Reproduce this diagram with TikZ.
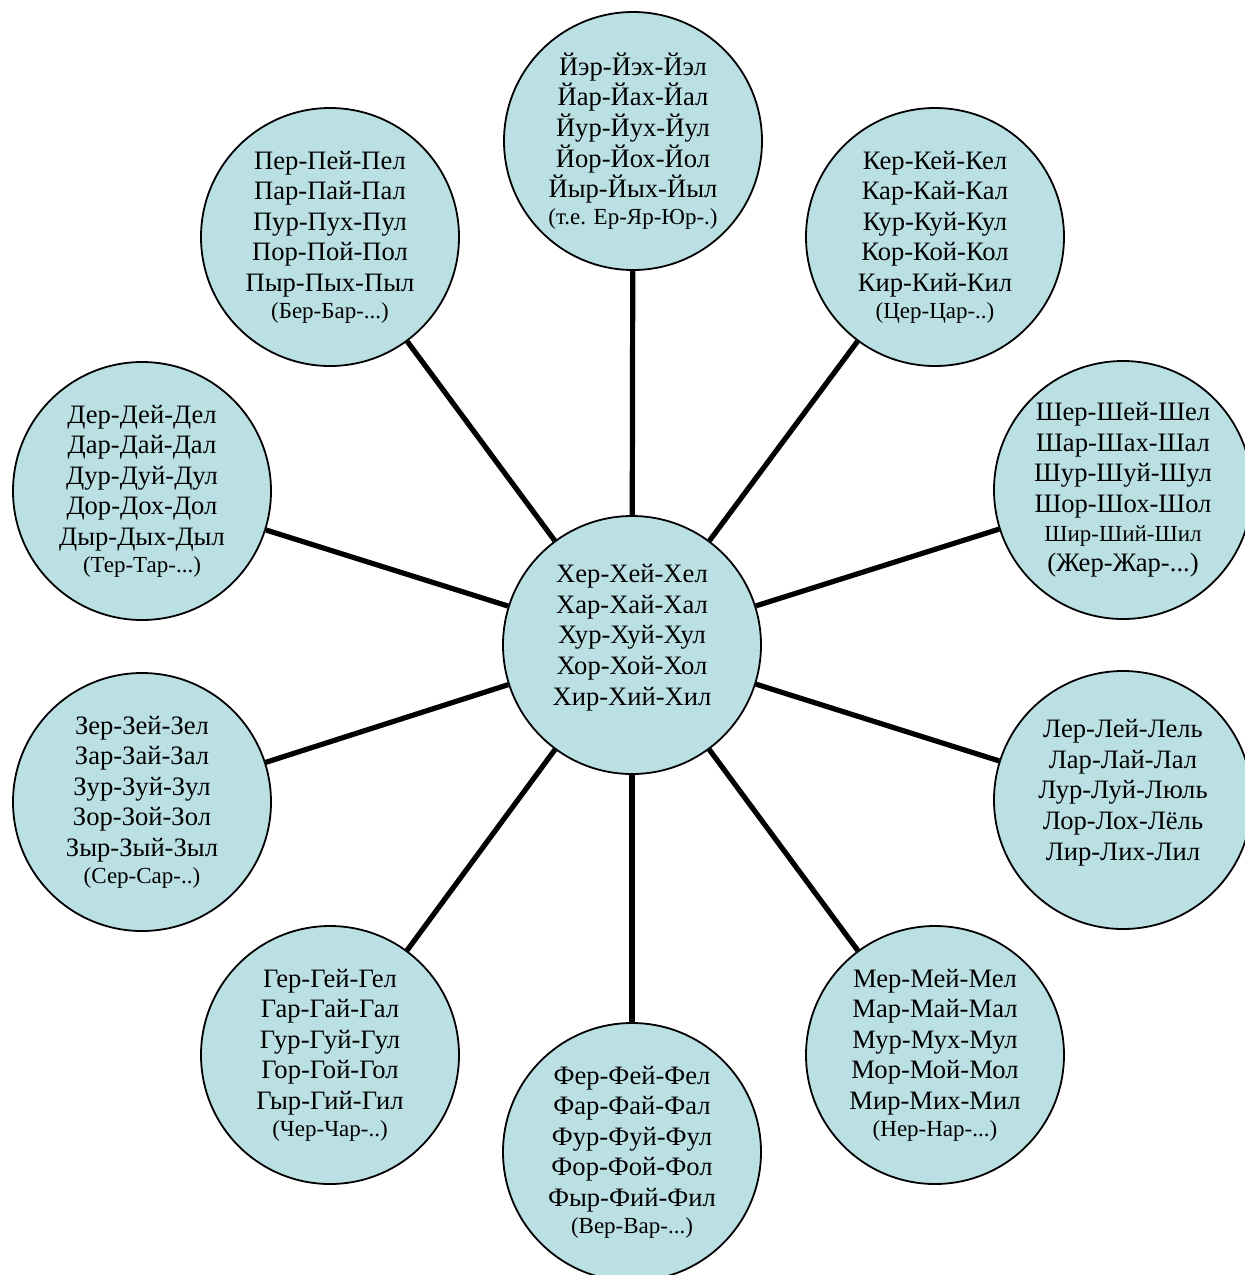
\documentclass[tikz,border=0pt]{standalone}
\usepackage{fontspec}
\setmainfont{Liberation Serif}
\usepackage{xcolor}
\usetikzlibrary{positioning}
\definecolor{circfill}{RGB}{187,224,228}
\newcommand{\sm}{\fontsize{11.5}{13}\selectfont}
\newcommand{\nm}{\fontsize{13.3}{15.3}\selectfont}

\begin{document}
\begin{tikzpicture}[
  x=0.5pt,y=-0.5pt,
  syl/.style={circle,draw,line width=0.9pt,fill=circfill,minimum size=129pt,
    inner sep=0pt,align=center,font=\nm},
  spoke/.style={line width=2.6pt},
]
\useasboundingbox (0,0) rectangle (1245,1275);

\node [syl] (hub) at (632,645) {Хер-Хей-Хел\\Хар-Хай-Хал\\Хур-Хуй-Хул\\Хор-Хой-Хол\\Хир-Хий-Хил\\[-5pt]\mbox{}};

\node [syl] (yot) at (633,141) {Йэр-Йэх-Йэл\\Йар-Йах-Йал\\Йур-Йух-Йул\\Йор-Йох-Йол\\Йыр-Йых-Йыл\\[-2pt]{\sm (т.е. Ер-Яр-Юр-.)}};
\node [syl] (pe) at (330,237) {Пер-Пей-Пел\\Пар-Пай-Пал\\Пур-Пух-Пул\\Пор-Пой-Пол\\Пыр-Пых-Пыл\\[-2pt]{\sm (Бер-Бар-...)}};
\node [syl] (ka) at (935,237) {Кер-Кей-Кел\\Кар-Кай-Кал\\Кур-Куй-Кул\\Кор-Кой-Кол\\Кир-Кий-Кил\\[-2pt]{\sm (Цер-Цар-..)}};
\node [syl] (de) at (142,491) {Дер-Дей-Дел\\Дар-Дай-Дал\\Дур-Дуй-Дул\\Дор-Дох-Дол\\Дыр-Дых-Дыл\\[-2pt]{\sm (Тер-Тар-...)}};
\node [syl] (sha) at (1123,490) {Шер-Шей-Шел\\Шар-Шах-Шал\\Шур-Шуй-Шул\\Шор-Шох-Шол\\[-1pt]{\sm Шир-Ший-Шил}\\{\nm (Жер-Жар-...)}};
\node [syl] (ze) at (142,802) {Зер-Зей-Зел\\Зар-Зай-Зал\\Зур-Зуй-Зул\\Зор-Зой-Зол\\Зыр-Зый-Зыл\\[-2pt]{\sm (Сер-Сар-..)}};
\node [syl] (el) at (1123,800) {Лер-Лей-Лель\\Лар-Лай-Лал\\Лур-Луй-Люль\\Лор-Лох-Лёль\\Лир-Лих-Лил\\[-5pt]\mbox{}};
\node [syl] (ge) at (330,1055) {Гер-Гей-Гел\\Гар-Гай-Гал\\Гур-Гуй-Гул\\Гор-Гой-Гол\\Гыр-Гий-Гил\\[-2pt]{\sm (Чер-Чар-..)}};
\node [syl] (em) at (935,1055) {Мер-Мей-Мел\\Мар-Май-Мал\\Мур-Мух-Мул\\Мор-Мой-Мол\\Мир-Мих-Мил\\[-2pt]{\sm (Нер-Нар-...)}};
\node [syl] (ef) at (632,1152) {Фер-Фей-Фел\\Фар-Фай-Фал\\Фур-Фуй-Фул\\Фор-Фой-Фол\\Фыр-Фий-Фил\\[-2pt]{\sm (Вер-Вар-...)}};

\foreach \n in {yot,pe,ka,de,sha,ze,el,ge,em,ef}
  \draw [spoke] (hub) -- (\n);
\end{tikzpicture}
\end{document}
